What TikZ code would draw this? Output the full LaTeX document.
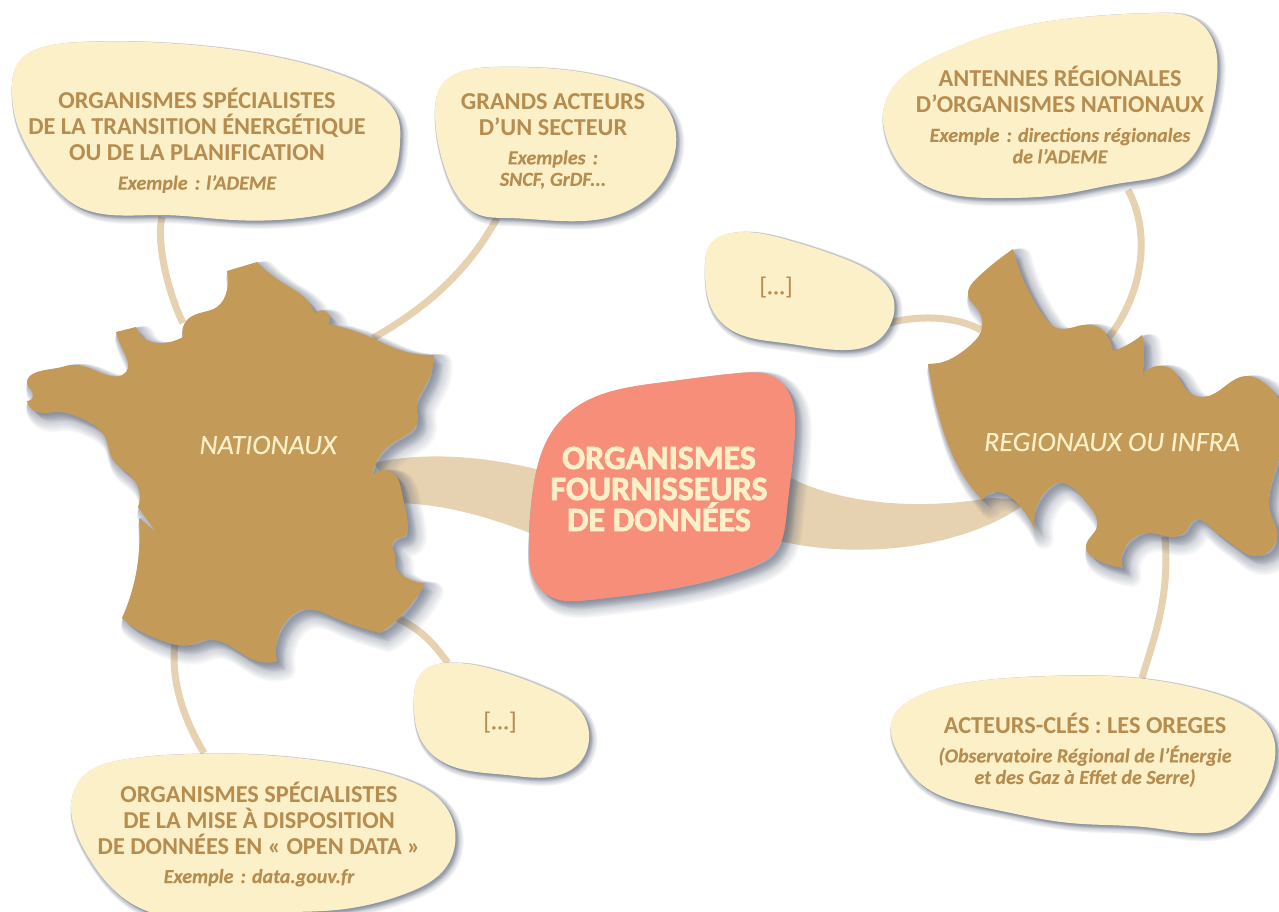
\documentclass[tikz,border=0pt]{standalone}
\usepackage{fontspec}
\setmainfont{Carlito}
\newfontfamily\heavyfont[FakeBold=2.2]{Carlito Bold}
\newfontfamily\subfont[FakeBold=.08]{Carlito Italic}
\newfontfamily\midfont[FakeBold=.5]{Carlito}
\usetikzlibrary{hobby}
\definecolor{bubblefill}{HTML}{FCF0C9}
\definecolor{inktext}{HTML}{B68C4F}
\definecolor{landfill}{HTML}{C49A58}
\definecolor{linkcol}{HTML}{E6D1B0}
\definecolor{corefill}{HTML}{F68E79}
\definecolor{shadowcol}{HTML}{5A6478}
\tikzset{
 x=1pt,y=-1pt,
 link/.style={draw=linkcol,line width=7pt},
 band/.style={fill=linkcol},
 head/.style={font=\fontsize{24.3}{26}\selectfont\bfseries,text=inktext,align=center,inner sep=0pt},
 land label/.style={font=\fontsize{28}{30}\selectfont\subfont,text=bubblefill,inner sep=0pt},
 core label/.style={font=\fontsize{34}{31}\selectfont\heavyfont,text=bubblefill,align=center,inner sep=0pt},
 dots label/.style={font=\fontsize{24.3}{26}\selectfont\midfont,text=inktext,inner sep=0pt},
 francep/.style={use Hobby shortcut,insert path={(257,262)..(283,283)..(307,300)..(315,314) -- (315,314)..(325,311)..(328,324) -- (328,324)..(370,337)..(400,350)..(434,355) -- (434,355)..(427,383)..(417,407)..(418,420)..(393,443)..(372,476) -- (372,476)..(393,473)..(402,493)..(408,527)..(406,535)..(393,542)..(395,555)..(396,568)..(402,575)..(425,583) -- (425,583)..(413,602)..(380,633) -- (380,633)..(333,617)..(303,610)..(290,617)..(278,637)..(277,661) -- (277,661)..(260,662)..(207,640)..(190,645)..(160,640)..(133,627)..(122,618) -- (122,618)..(133,587)..(139,518) -- (156,532) -- (138,507)..(139,490)..(127,473)..(113,460)..(105,437)..(80,418)..(57,412)..(37,412)..(27,401) -- (27,401)..(33,395)..(27,383)..(37,372)..(62,367)..(70,365)..(107,375)..(126,372)..(123,350)..(116,332) -- (116,332)..(136,327) -- (136,327)..(147,340)..(163,343)..(183,337) -- (183,337)..(187,320)..(200,313)..(217,307)..(227,290)..(227,271) -- (227,271)..(257,262) -- cycle}},
 regionp/.style={use Hobby shortcut,insert path={(1013,249)..(1025,283)..(1043,315)..(1057,328)..(1083,325)..(1100,328)..(1108,337)..(1113,351) -- (1113,351)..(1127,345)..(1142,335) -- (1142,335)..(1144,350)..(1142,375) -- (1142,375)..(1163,366)..(1175,372)..(1183,385)..(1200,397)..(1220,390)..(1247,376)..(1263,382)..(1282,405)..(1279,460)..(1272,517)..(1277,530)..(1248,555)..(1237,548)..(1210,527)..(1195,520)..(1187,530)..(1173,537)..(1150,533)..(1123,568) -- (1123,568)..(1097,560)..(1086,547)..(1097,527)..(1090,507)..(1077,492)..(1060,483)..(1047,490)..(1035,530) -- (1035,530)..(1017,503)..(997,492)..(982,500) -- (982,500)..(960,470)..(940,420)..(928,364) -- (928,364)..(943,362)..(967,348)..(982,328)..(978,310)..(968,295)..(977,278)..(1013,249) -- cycle}},
 corep/.style={use Hobby shortcut,closed=true,insert path={(572,410)..(665,382)..(740,373)..(774,377)..(791,397)..(795,430)..(787,510)..(774,553)..(749,568)..(665,590)..(589,600)..(551,597)..(536,583)..(529,540)..(534,483)..(551,433)}},
 bonep/.style={use Hobby shortcut,closed=true,insert path={(12,93)..(20,60)..(43,47)..(83,42)..(167,43)..(267,55)..(333,72)..(377,93)..(398,118)..(400,143)..(392,177)..(360,203)..(300,218)..(233,220)..(160,215)..(72,203)..(57,190)..(33,157)..(15,117)}},
 btwop/.style={use Hobby shortcut,closed=true,insert path={(435,113)..(443,83)..(467,70)..(503,67)..(567,70)..(627,83)..(660,100)..(675,127)..(673,160)..(653,193)..(617,215)..(560,221)..(507,218)..(475,213)..(463,203)..(443,163)}},
 bthreep/.style={use Hobby shortcut,closed=true,insert path={(883,113)..(893,87)..(934,57)..(998,32)..(1084,17)..(1160,13)..(1193,18)..(1214,43)..(1217,77)..(1208,123)..(1186,163)..(1122,183)..(1058,195)..(1002,198)..(945,193)..(904,170)..(887,140)}},
 bfourp/.style={use Hobby shortcut,closed=true,insert path={(705,267)..(711,243)..(731,233)..(788,240)..(840,257)..(878,277)..(893,297)..(891,323)..(874,343)..(840,350)..(784,343)..(728,328)..(714,313)}},
 bfivep/.style={use Hobby shortcut,closed=true,insert path={(414,697)..(421,673)..(446,663)..(496,670)..(550,690)..(582,713)..(589,733)..(579,763)..(550,777)..(507,775)..(434,756)..(421,740)}},
 bsixp/.style={use Hobby shortcut,closed=true,insert path={(71,807)..(82,777)..(121,760)..(193,754)..(264,755)..(336,763)..(407,780)..(446,807)..(455,830)..(446,867)..(407,893)..(336,910)..(264,913)..(134,905)..(111,887)..(86,853)}},
 bsevenp/.style={use Hobby shortcut,closed=true,insert path={(893,717)..(910,700)..(970,682)..(1053,676)..(1137,678)..(1203,690)..(1247,707)..(1272,733)..(1270,777)..(1250,810)..(1233,825)..(1153,828)..(1070,823)..(987,808)..(920,783)..(900,757)}},
}
% #1 path style, #2 offset, #3 fill colour: a soft shadow that ramps away from the edge
\newcommand{\blobwithshadow}[3]{%
 \foreach \k in {1,...,12}{%
  \path[shift={(#2*\k/12,#2*\k/12)},fill=shadowcol,draw=shadowcol,line join=round,
   fill opacity=.05,draw opacity=.05,line width=2.2*#2*\k/12,#1] ;}%
 \path[fill=#3,#1];}
\newcommand{\subl}[1]{{\fontsize{20}{21.5}\selectfont\subfont #1}}
\newcommand{\colonsp}{\hspace{7pt}:}
\begin{document}
\begin{tikzpicture}
\useasboundingbox (0,0) rectangle (1279,911);
\coordinate (bonefoot) at (162,217); \coordinate (frnorth) at (183,323);
\coordinate (btwofoot) at (497,218); \coordinate (frne) at (373,338);
\coordinate (bthreefoot) at (1128,190); \coordinate (regnorth) at (1109,337);
\coordinate (bfourfoot) at (889,323); \coordinate (regwest) at (981,330);
\coordinate (frse) at (397,618); \coordinate (bfivetop) at (448,663);
\coordinate (frsouth) at (175,643); \coordinate (bsixtop) at (204,753);
\coordinate (regsouth) at (1165,537); \coordinate (bseventop) at (1142,678);
\coordinate (frbandt) at (374,463); \coordinate (frbandb) at (400,503);
\coordinate (corewt) at (540,470); \coordinate (corewb) at (530,533);
\coordinate (coreet) at (785,475); \coordinate (coreeb) at (775,540);
\coordinate (regbandt) at (990,498); \coordinate (regbandb) at (1030,500);
\draw[link] (bonefoot) .. controls +(-6,25) and +(-15,-30) .. (frnorth);
\draw[link] (btwofoot) .. controls +(-30,55) and +(50,-28) .. (frne);
\draw[link] (bthreefoot) .. controls +(22,40) and +(36,-47) .. (regnorth);
\draw[link] (bfourfoot) .. controls +(30,-8) and +(-25,-14) .. (regwest);
\draw[link] (frse) .. controls +(25,12) and +(-15,-20) .. (bfivetop);
\draw[link] (frsouth) .. controls +(-5,40) and +(-18,-30) .. (bsixtop);
\draw[link] (regsouth) .. controls +(5,60) and +(12,-40) .. (bseventop);
\fill[band] (frbandt) .. controls (420,452) and (480,455) .. (corewt) -- (corewb) .. controls (490,518) and (450,505) .. (frbandb) -- cycle;
\fill[band] (coreet) .. controls (840,505) and (920,510) .. (regbandt) -- (regbandb) .. controls (970,548) and (860,561) .. (coreeb) -- cycle;
\blobwithshadow{francep}{9}{landfill}
\blobwithshadow{regionp}{9}{landfill}
\blobwithshadow{corep}{8}{corefill}
\blobwithshadow{bonep}{4}{bubblefill}
\blobwithshadow{btwop}{4}{bubblefill}
\blobwithshadow{bthreep}{4}{bubblefill}
\blobwithshadow{bfourp}{4}{bubblefill}
\blobwithshadow{bfivep}{4}{bubblefill}
\blobwithshadow{bsixp}{4}{bubblefill}
\blobwithshadow{bsevenp}{4}{bubblefill}
\node[land label] (france) at (268,445) {NATIONAUX};
\node[land label] (region) at (1112,442) {REGIONAUX OU INFRA};
\node[core label] (core) at (659,489) {ORGANISMES\\FOURNISSEURS\\DE DONNÉES};
\node[head] (bone) at (197,140.5) {ORGANISMES SPÉCIALISTES\\DE LA TRANSITION ÉNERGÉTIQUE\\OU DE LA PLANIFICATION\\[3pt]\subl{Exemple\colonsp{} l’ADEME}};
\node[head] (btwo) at (553,141) {GRANDS ACTEURS\\D’UN SECTEUR\\[3pt]\subl{Exemples\colonsp}\\[-4.5pt]\subl{SNCF, GrDF...}};
\node[head] (bthree) at (1060,115) {ANTENNES RÉGIONALES\\D’ORGANISMES NATIONAUX\\[3pt]\subl{Exemple\colonsp{} directions régionales}\\[-4.5pt]\subl{de l’ADEME}};
\node[dots label] (bfour) at (776,287) {[...]};
\node[dots label] (bfive) at (500,722) {[...]};
\node[head] (bsix) at (259,834) {ORGANISMES SPÉCIALISTES\\DE LA MISE À DISPOSITION\\DE DONNÉES EN « OPEN DATA »\\[3pt]\subl{Exemple\colonsp{} data.gouv.fr}};
\node[head] (bseven) at (1085,750) {ACTEURS-CLÉS : LES OREGES\\[3pt]\subl{(Observatoire Régional de l’Énergie}\\[-4.5pt]\subl{et des Gaz à Effet de Serre)}};
\end{tikzpicture}
\end{document}
